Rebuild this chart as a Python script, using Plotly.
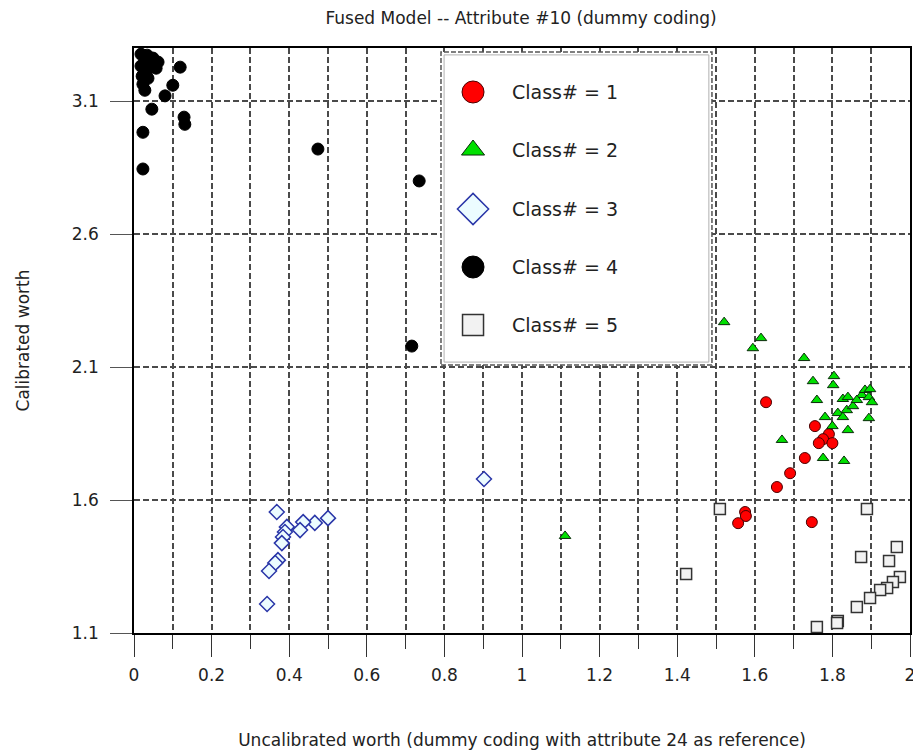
import plotly.graph_objects as go

# Class 1 (red circles)
c1_x = [1.629, 1.755, 1.791, 1.776, 1.765, 1.800, 1.729, 1.691, 1.657, 1.575, 1.577, 1.557, 1.747]
c1_y = [1.968, 1.878, 1.848, 1.829, 1.814, 1.814, 1.758, 1.701, 1.649, 1.555, 1.540, 1.513, 1.517]

# Class 2 (green triangles)
c2_x = [1.521, 1.616, 1.595, 1.727, 1.750, 1.804, 1.802, 1.760, 1.827, 1.840, 1.837, 1.853,
        1.781, 1.814, 1.827, 1.800, 1.840, 1.894, 1.670, 1.776, 1.830, 1.876, 1.884, 1.897,
        1.894, 1.902, 1.863, 1.111]
c2_y = [2.269, 2.209, 2.171, 2.134, 2.047, 2.066, 2.032, 1.976, 1.980, 1.987, 1.938, 1.953,
        1.912, 1.927, 1.912, 1.878, 1.863, 1.908, 1.826, 1.758, 1.747, 1.995, 2.014, 2.017,
        1.987, 1.968, 1.976, 1.465]

# Class 3 (blue diamonds)
c3_x = [0.368, 0.500, 0.466, 0.436, 0.428, 0.394, 0.389, 0.384, 0.381, 0.371, 0.364, 0.348,
        0.343, 0.902]
c3_y = [1.555, 1.532, 1.514, 1.517, 1.487, 1.499, 1.480, 1.461, 1.438, 1.374, 1.363, 1.333,
        1.209, 1.679]

# Class 4 (black circles)
c4_x = [0.018, 0.034, 0.049, 0.062, 0.028, 0.044, 0.057, 0.018, 0.034, 0.021, 0.036, 0.023,
        0.028, 0.119, 0.100, 0.080, 0.046, 0.129, 0.131, 0.023, 0.023, 0.474, 0.735, 0.716]
c4_y = [3.277, 3.273, 3.262, 3.247, 3.254, 3.239, 3.224, 3.232, 3.217, 3.194, 3.186, 3.164,
        3.141, 3.228, 3.160, 3.120, 3.070, 3.040, 3.013, 2.983, 2.845, 2.920, 2.800, 2.179]

# Class 5 (light grey squares)
c5_x = [1.510, 1.423, 1.889, 1.966, 1.946, 1.874, 1.974, 1.956, 1.941, 1.923, 1.897, 1.863,
        1.814, 1.812, 1.760]
c5_y = [1.566, 1.322, 1.566, 1.423, 1.371, 1.386, 1.311, 1.292, 1.269, 1.262, 1.232, 1.198,
        1.145, 1.138, 1.123]

class_names = ["Class# = 1", "Class# = 2", "Class# = 3", "Class# = 4", "Class# = 5"]

x_range = [0, 2]
y_range = [1.1, 3.3]
y_ticks = [1.1, 1.6, 2.1, 2.6, 3.1]

# marker style per class: (symbol, size in plot, size in key, fill, outline, outline width)
styles = [
    ("circle", 11, 22, "#ff0000", "#4a0000", 1),
    ("triangle-up", 10, 20, "#00e000", "#0a2a0a", 1),
    ("diamond", 11.5, 24, "#ecfcff", "#2a36a8", 1.5),
    ("circle", 12, 22, "#000000", "#000000", 1),
    ("square", 11, 21, "#f2f2f2", "#333333", 1.5),
]
data = [(c1_x, c1_y), (c2_x, c2_y), (c3_x, c3_y), (c4_x, c4_y), (c5_x, c5_y)]

fig = go.Figure()
for name, (xs, ys), (sym, sz, _, fill, edge, ew) in zip(class_names, data, styles):
    fig.add_trace(go.Scatter(x=xs, y=ys, mode="markers", name=name, showlegend=False,
                             marker=dict(symbol=sym, size=sz, color=fill,
                                         line=dict(color=edge, width=ew))))

# Key box drawn on an overlay axis pair spanning the plot area in 0..1 units
key_x0, key_x1, key_y0, key_y1 = 0.3956, 0.7448, 0.4581, 0.9932
key_mark_x = 0.4369
key_text_x = 0.4845
key_rows = [0.9248, 0.8256, 0.7248, 0.6256, 0.5265]

fig.add_trace(go.Scatter(
    x=[key_x0, key_x1, key_x1, key_x0, key_x0], y=[key_y0, key_y0, key_y1, key_y1, key_y0],
    xaxis="x2", yaxis="y2", mode="lines", fill="toself", fillcolor="white",
    line=dict(color="#555555", width=1.5, dash="5px,2px"), showlegend=False, hoverinfo="skip"))
fig.add_trace(go.Scatter(
    x=[key_x0 + 0.004, key_x1 - 0.004, key_x1 - 0.004, key_x0 + 0.004, key_x0 + 0.004],
    y=[key_y0 + 0.005, key_y0 + 0.005, key_y1 - 0.005, key_y1 - 0.005, key_y0 + 0.005],
    xaxis="x2", yaxis="y2", mode="lines",
    line=dict(color="#b0b0b0", width=1), showlegend=False, hoverinfo="skip"))
for name, row, (sym, _, ksz, fill, edge, ew) in zip(class_names, key_rows, styles):
    fig.add_trace(go.Scatter(
        x=[key_mark_x], y=[row], xaxis="x2", yaxis="y2", mode="markers", showlegend=False,
        hoverinfo="skip",
        marker=dict(symbol=sym, size=ksz, color=fill, line=dict(color=edge, width=ew))))
    fig.add_annotation(x=key_text_x, y=row, xref="x2", yref="y2", text=name,
                       showarrow=False, xanchor="left", yanchor="middle",
                       font=dict(size=19, color="#222222"))

font_family = "DejaVu Sans"
grid_color = "#4a4a4a"

xaxis_cfg = dict(
    range=x_range, dtick=0.2, tick0=0, tickformat="~g", automargin=False,
    showline=True, linecolor="#000000", linewidth=1.5, mirror=True,
    ticks="outside", ticklen=22, tickcolor="#333333", tickwidth=1,
    showgrid=True, gridcolor=grid_color, griddash="6px,3px", gridwidth=1.5,
    zeroline=False, ticklabelstandoff=4, ticklabeloverflow="allow",
    tickfont=dict(size=17, color="#222222"),
    minor=dict(dtick=0.1, tick0=0, showgrid=True, gridcolor=grid_color, griddash="6px,3px",
               gridwidth=1.5, ticks="outside", ticklen=14, tickcolor="#333333"),
    title=dict(text="Uncalibrated worth (dummy coding with attribute 24 as reference)",
               font=dict(size=17, color="#222222"), standoff=50),
)
yaxis_cfg = dict(
    range=y_range, tickvals=y_ticks, ticktext=[f"{v:.1f}" for v in y_ticks],
    automargin=False,
    showline=True, linecolor="#000000", linewidth=1.5, mirror=True,
    ticks="outside", ticklen=22, tickcolor="#555555", tickwidth=1,
    showgrid=True, gridcolor=grid_color, griddash="6px,3px", gridwidth=1.5,
    zeroline=False, ticklabelstandoff=8,
    tickfont=dict(size=17, color="#222222"),
    title=dict(text="Calibrated worth", font=dict(size=17, color="#222222"), standoff=38),
)

fig.update_layout(
    width=913, height=754,
    margin=dict(l=134, r=3, t=48, b=121),
    paper_bgcolor="white", plot_bgcolor="white",
    font=dict(family=font_family, size=13, color="#222222"),
    title=dict(text="Fused Model -- Attribute #10 (dummy coding)", x=0.5707, xanchor="center",
               y=0.976, yanchor="middle", font=dict(size=17, color="#222222")),
    showlegend=False,
    xaxis=xaxis_cfg,
    yaxis=yaxis_cfg,
    xaxis2=dict(overlaying="x", anchor="y2", range=[0, 1], visible=False, fixedrange=True),
    yaxis2=dict(overlaying="y", anchor="x2", range=[0, 1], visible=False, fixedrange=True),
)

fig.write_html("out.html")
